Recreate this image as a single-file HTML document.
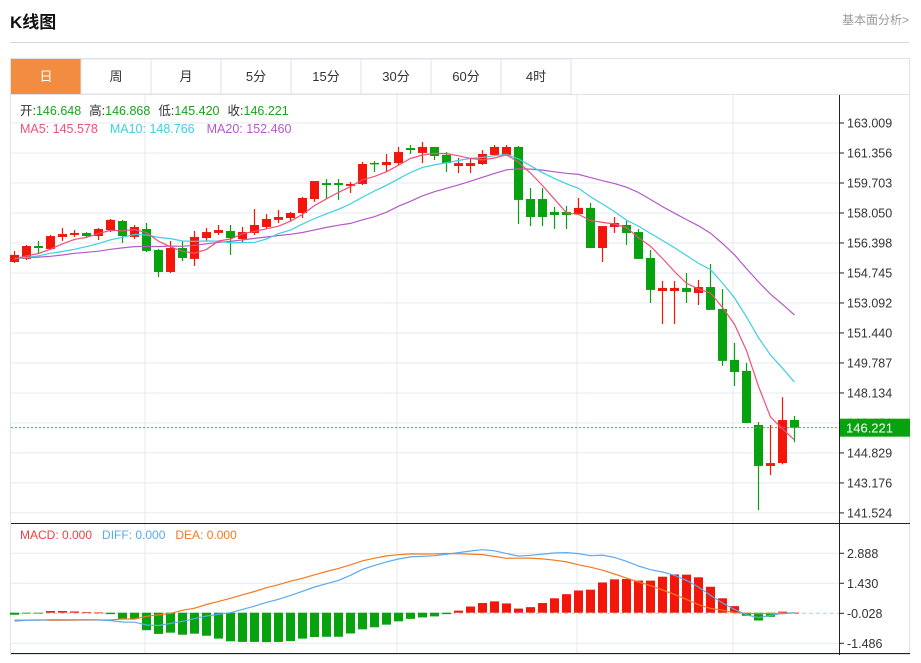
<!DOCTYPE html>
<html><head><meta charset="utf-8"><style>
body{margin:0;background:#fff;width:921px;height:658px;overflow:hidden;font-family:"Liberation Sans","Noto Sans CJK SC",sans-serif}
svg text{font-family:"Liberation Sans","Noto Sans CJK SC",sans-serif}
</style></head><body>
<svg id="svg" width="921" height="658" xmlns="http://www.w3.org/2000/svg">
<text x="10" y="28" font-size="17" font-weight="bold" fill="#111">K线图</text>
<text x="909" y="24" font-size="12" fill="#999" text-anchor="end">基本面分析&gt;</text>
<line x1="10" y1="42.5" x2="909" y2="42.5" stroke="#d6d6d6"/>
<rect x="10.5" y="58.5" width="899" height="596" fill="none" stroke="#dde3ea"/>
<line x1="10" y1="94.5" x2="910" y2="94.5" stroke="#dde3ea"/>
<g id="tabs"></g>
<g id="grid"></g>
<g id="main"></g>
<g id="macd"></g>
<g id="axis"></g>
<text x="20" y="115" font-size="12.5"><tspan fill="#333">开:</tspan><tspan fill="#1aa31a">146.648</tspan><tspan fill="#333" dx="8">高:</tspan><tspan fill="#1aa31a">146.868</tspan><tspan fill="#333" dx="8">低:</tspan><tspan fill="#1aa31a">145.420</tspan><tspan fill="#333" dx="8">收:</tspan><tspan fill="#1aa31a">146.221</tspan></text>
<text x="20" y="133" font-size="12.5"><tspan fill="#f0507a">MA5: 145.578</tspan><tspan fill="#3ecfe0" dx="12">MA10: 148.766</tspan><tspan fill="#b45ac8" dx="12">MA20: 152.460</tspan></text>
<text x="20" y="539" font-size="12"><tspan fill="#f04040">MACD: 0.000</tspan><tspan fill="#5aaaf0" dx="10">DIFF: 0.000</tspan><tspan fill="#f57a20" dx="10">DEA: 0.000</tspan></text>
</svg>
<script>
const opens=[155.35,155.52,156.23,156.07,156.73,156.84,156.95,156.78,157.11,157.61,156.73,157.17,156.01,154.80,156.12,155.52,156.67,156.95,157.06,156.62,156.95,157.28,157.67,157.77,158.05,158.82,159.70,159.70,159.54,159.65,160.81,160.69,160.80,161.63,161.36,161.69,161.25,160.64,160.64,160.75,161.25,161.25,161.69,158.82,158.82,158.11,158.11,157.99,158.33,156.12,157.28,157.39,157.00,155.57,153.75,153.75,153.92,153.64,153.97,152.76,149.95,149.35,146.37,144.11,144.27,146.648];
const highs=[155.96,156.29,156.51,156.84,157.22,157.11,157.00,157.22,157.72,157.67,157.39,157.50,156.07,156.51,156.51,157.06,157.22,157.39,157.39,157.28,158.27,157.99,158.22,158.11,158.93,159.81,159.92,159.92,159.76,160.86,160.91,161.30,161.69,161.80,161.96,161.69,161.41,161.08,161.08,161.52,161.80,161.80,161.74,159.43,159.43,158.38,158.44,158.88,158.60,157.33,157.83,157.61,157.17,156.01,154.30,154.30,154.74,154.36,155.24,153.86,150.89,149.79,146.53,146.37,147.90,146.868];
const lows=[155.29,155.46,155.85,156.01,156.51,156.73,156.70,156.56,157.00,156.40,156.62,155.90,154.52,154.74,155.40,155.13,156.51,156.84,155.74,156.45,156.84,157.17,157.50,157.61,157.77,158.66,158.82,158.77,159.15,159.59,160.31,160.31,160.69,161.30,160.80,160.97,160.31,160.25,160.25,160.70,161.20,161.20,157.44,157.33,157.33,157.17,157.17,157.94,156.12,155.35,156.95,156.29,155.52,153.09,151.93,151.93,153.09,152.98,152.71,149.62,148.52,146.48,141.68,143.61,144.20,145.420];
const closes=[155.74,156.23,156.12,156.78,156.89,156.95,156.78,157.17,157.67,156.78,157.28,155.96,154.80,156.12,155.57,156.73,157.00,157.11,156.67,157.00,157.39,157.72,157.83,158.05,158.88,159.81,159.59,159.59,159.65,160.75,160.75,160.86,161.41,161.52,161.69,161.19,160.80,160.80,160.80,161.30,161.69,161.69,158.77,157.83,157.83,157.94,157.94,158.33,156.12,157.33,157.50,156.95,155.52,153.81,153.92,153.92,153.70,153.97,152.71,149.90,149.29,146.48,144.11,144.27,146.64,146.221];
const prevCloses=[155.2,155.6,155.9,155.4,155.1,155.7,156.0,155.5,155.3,155.8,155.6,155.2,155.4,155.9,155.7,155.3,155.5,155.6,155.4];
const histVals=[-0.1,-0.02,-0.02,0.08,0.08,0.06,0.02,0.01,-0.07,-0.3,-0.3,-0.85,-1.03,-0.97,-1.07,-1.02,-1.12,-1.26,-1.39,-1.42,-1.42,-1.43,-1.42,-1.38,-1.26,-1.18,-1.17,-1.17,-1.01,-0.81,-0.71,-0.58,-0.42,-0.3,-0.23,-0.18,-0.07,0.1,0.3,0.47,0.55,0.45,0.2,0.27,0.47,0.7,0.9,1.08,1.12,1.47,1.62,1.64,1.56,1.56,1.75,1.86,1.85,1.72,1.26,0.7,0.32,-0.15,-0.38,-0.2,0.05,0.0];
const diffVals=[-0.41,-0.37,-0.36,-0.34,-0.34,-0.34,-0.34,-0.35,-0.39,-0.45,-0.46,-0.60,-0.62,-0.52,-0.42,-0.29,-0.16,-0.08,0,0.16,0.32,0.50,0.65,0.84,1.04,1.25,1.41,1.57,1.82,2.11,2.30,2.47,2.61,2.71,2.74,2.77,2.84,2.92,3.00,3.06,3.01,2.87,2.75,2.79,2.85,2.90,2.92,2.87,2.77,2.80,2.69,2.50,2.27,2.09,1.98,1.82,1.57,1.25,0.84,0.47,0.16,-0.10,-0.24,-0.13,-0.03,0];
const deaVals=[-0.36,-0.36,-0.35,-0.37,-0.37,-0.36,-0.35,-0.355,-0.355,-0.30,-0.31,-0.175,-0.105,-0.035,0.115,0.22,0.40,0.55,0.70,0.87,1.03,1.215,1.36,1.53,1.67,1.84,2.0,2.155,2.33,2.52,2.65,2.76,2.82,2.86,2.855,2.86,2.875,2.87,2.85,2.825,2.735,2.645,2.65,2.655,2.615,2.55,2.47,2.33,2.21,2.065,1.88,1.68,1.49,1.31,1.105,0.89,0.645,0.39,0.21,0.12,0.0,-0.025,-0.05,-0.03,-0.055,0];
const priceTicks=["163.009","161.356","159.703","158.050","156.398","154.745","153.092","151.440","149.787","148.134","146.481","144.829","143.176","141.524"];
const macdTicks=["2.888","1.430","-0.028","-1.486"];
const tabLabels=["日","周","月","5分","15分","30分","60分","4时"];

const NS="http://www.w3.org/2000/svg";
function mk(parent,tag,attrs){const e=document.createElementNS(NS,tag);for(const k in attrs)e.setAttribute(k,attrs[k]);parent.appendChild(e);return e;}
const X0=14.5,STEP=12,AXX=839;
const xOf=i=>X0+STEP*i;
const yP=v=>123+(163.009-v)/1.6531*30;
const yM=v=>612.7-v/1.458*30;
const RED="#f2170a",GREEN="#06a30e";

// tabs
const tabs=document.getElementById('tabs');
tabLabels.forEach((t,i)=>{
  const x=11+70*i;
  const r=mk(tabs,'rect',{x:x,y:59,width:70,height:35,fill:i===0?'#f28c40':'#fff',stroke:i===0?'none':'#dde3ea'});
  
  
  const tx=mk(tabs,'text',{x:x+35,y:81,'font-size':13,'text-anchor':'middle',fill:i===0?'#fff':'#333'});
  tx.textContent=t;
  
  
});

// grid
const grid=document.getElementById('grid');
priceTicks.forEach((t,i)=>{const y=yP(parseFloat(t));mk(grid,'line',{x1:11,x2:AXX,y1:y,y2:y,stroke:'#e4eaf0'});});
macdTicks.forEach((t,i)=>{const y=yM(parseFloat(t));if(t!=="-0.028")mk(grid,'line',{x1:11,x2:AXX,y1:y,y2:y,stroke:'#e4eaf0'});});
[145,397,577,733].forEach(x=>{mk(grid,'line',{x1:x,x2:x,y1:95,y2:653,stroke:'#e4eaf0'});});
mk(grid,'line',{x1:11,x2:AXX,y1:yM(-0.028),y2:yM(-0.028),stroke:'#9fd4ee','stroke-dasharray':'4,3'});

// candles
const main=document.getElementById('main');
closes.forEach((c,i)=>{
  const o=opens[i],up=c>=o,col=up?RED:GREEN,x=xOf(i);
  const w=mk(main,'line',{x1:x,x2:x,y1:yP(highs[i]),y2:yP(lows[i]),stroke:col,'stroke-width':1.2});
  
  
  const top=yP(Math.max(o,c)),bot=yP(Math.min(o,c));
  const b=mk(main,'rect',{x:x-4.5,y:top,width:9,height:Math.max(1.5,bot-top),fill:col});
  
  
});
// MAs
const all=prevCloses.concat(closes);
function ma(n){return closes.map((_,i)=>{const j=i+prevCloses.length;let s=0;for(let k=j-n+1;k<=j;k++)s+=all[k];return s/n;});}
[[20,'#b45ac8','ma20-line'],[10,'#3ecfe0','ma10-line'],[5,'#f0507a','ma5-line']].forEach(([n,col,nm])=>{
  const p=mk(main,'polyline',{points:ma(n).map((v,i)=>xOf(i)+','+yP(v).toFixed(1)).join(' '),fill:'none',stroke:col,'stroke-width':1.2});
  
  
});
const lastC=closes[closes.length-1];
const cl=mk(main,'line',{x1:11,x2:AXX,y1:yP(lastC),y2:yP(lastC),stroke:'#2ec82e','stroke-dasharray':'2,2'});



// MACD
const mg=document.getElementById('macd');
histVals.forEach((v,i)=>{
  const y0=yM(0),y1=yM(v);
  const r=mk(mg,'rect',{x:xOf(i)-4.5,y:Math.min(y0,y1),width:9,height:Math.max(0.8,Math.abs(y1-y0)),fill:v>=0?RED:GREEN});
  
  
});
[[deaVals,'#f57a20','dea-line'],[diffVals,'#5aaaf0','diff-line']].forEach(([arr,col,nm])=>{
  const p=mk(mg,'polyline',{points:arr.map((v,i)=>xOf(i)+','+yM(v).toFixed(1)).join(' '),fill:'none',stroke:col,'stroke-width':1.2});
  
  
});

// axes
const ax=document.getElementById('axis');
mk(ax,'line',{x1:AXX+0.5,x2:AXX+0.5,y1:95,y2:655,stroke:'#222'});
mk(ax,'line',{x1:11,x2:910,y1:523.5,y2:523.5,stroke:'#222'});
mk(ax,'line',{x1:11,x2:910,y1:653.5,y2:653.5,stroke:'#222'});
priceTicks.forEach(t=>{const y=yP(parseFloat(t));mk(ax,'line',{x1:AXX,x2:AXX+5,y1:y,y2:y,stroke:'#222'});
  const tx=mk(ax,'text',{x:AXX+8,y:y+4.5,'font-size':12.5,fill:'#333'});tx.textContent=t;
  
  });
macdTicks.forEach(t=>{const y=yM(parseFloat(t));mk(ax,'line',{x1:AXX,x2:AXX+5,y1:y,y2:y,stroke:'#222'});
  const tx=mk(ax,'text',{x:AXX+8,y:y+4.5,'font-size':12.5,fill:'#333'});tx.textContent=t;
  
  });
const ly=yP(lastC);
const lb=mk(ax,'rect',{x:AXX+1,y:ly-9,width:70,height:18,fill:'#06a30e'});


const lt=mk(ax,'text',{x:AXX+7,y:ly+5,'font-size':13,fill:'#fff'});lt.textContent=lastC.toFixed(3);


</script>
</body></html>
